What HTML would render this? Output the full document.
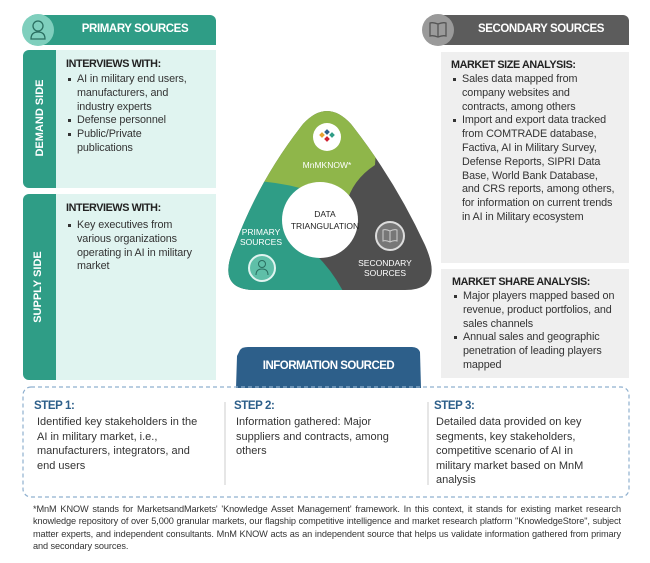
<!DOCTYPE html>
<html><head><meta charset="utf-8"><style>
*{margin:0;padding:0;box-sizing:border-box}
body{width:650px;height:563px;background:#fff;font-family:"Liberation Sans",sans-serif;position:relative;overflow:hidden;color:#333}
.a{position:absolute}
.h{font-weight:bold;font-size:10.8px;color:#222;letter-spacing:-0.4px}
ul{list-style:none}
li{position:relative;padding-left:11px;font-size:10.8px;line-height:13.8px;color:#333;white-space:nowrap;letter-spacing:-0.1px}
li:before{content:"";position:absolute;left:2px;top:5px;width:3px;height:3px;background:#333}
.st{font-weight:bold;font-size:11.5px;color:#2d5f8a;letter-spacing:-0.4px}
.sp{font-size:11px;line-height:14.6px;color:#333;white-space:nowrap}
.side{color:#fff;font-weight:bold;font-size:11px;transform:rotate(-90deg);white-space:nowrap;position:absolute}
</style></head><body>
<div class="a" style="left:32px;top:15px;width:184px;height:30px;background:#2f9d86;border-radius:0 6px 0 0"></div>
<div class="a" style="left:22px;top:14px;width:32px;height:32px;border-radius:50%;background:#7fcfbd"></div>
<svg class="a" style="left:28px;top:19px" width="20" height="22" viewBox="0 0 20 22"><circle cx="10" cy="7" r="5" fill="none" stroke="#2a6e60" stroke-width="1.3"/><path d="M3 20 Q3 13 10 13 Q17 13 17 20 Z" fill="none" stroke="#2a6e60" stroke-width="1.3"/></svg>
<div class="a" style="left:60px;top:23px;width:150px;text-align:center;color:#fff;font-weight:bold;font-size:11.5px;letter-spacing:-0.4px">PRIMARY SOURCES</div>
<div class="a" style="left:23px;top:50px;width:193px;height:138px;background:#e0f4f0;border-radius:6px 0 0 6px"></div>
<div class="a" style="left:23px;top:50px;width:33px;height:138px;background:#2f9d86;border-radius:6px 0 0 6px"></div>
<div class="side" style="left:-3px;top:112px;width:86px;text-align:center">DEMAND SIDE</div>
<div class="a h" style="left:66px;top:58px">INTERVIEWS WITH:</div>
<ul class="a" style="left:66px;top:73px"><li>AI in military end users,<br>manufacturers, and<br>industry experts</li><li>Defense personnel</li><li>Public/Private<br>publications</li></ul>
<div class="a" style="left:23px;top:194px;width:193px;height:186px;background:#e0f4f0;border-radius:6px 0 0 6px"></div>
<div class="a" style="left:23px;top:194px;width:33px;height:186px;background:#2f9d86;border-radius:6px 0 0 6px"></div>
<div class="side" style="left:-5px;top:281px;width:86px;text-align:center">SUPPLY SIDE</div>
<div class="a h" style="left:66px;top:202px">INTERVIEWS WITH:</div>
<ul class="a" style="left:66px;top:219px"><li>Key executives from<br>various organizations<br>operating in AI in military<br>market</li></ul>
<div class="a" style="left:432px;top:15px;width:197px;height:30px;background:#5c5c5c;border-radius:0 6px 0 0"></div>
<div class="a" style="left:422px;top:14px;width:32px;height:32px;border-radius:50%;background:#9a9a9a"></div>
<svg class="a" style="left:428px;top:21px" width="20" height="18" viewBox="0 0 20 18"><path d="M10 3 Q5 1 2 2 V15 Q5 14 10 16 Q15 14 18 15 V2 Q15 1 10 3 V16" fill="none" stroke="#555" stroke-width="1.3"/></svg>
<div class="a" style="left:458px;top:23px;width:166px;text-align:center;color:#fff;font-weight:bold;font-size:11.5px;letter-spacing:-0.4px">SECONDARY SOURCES</div>
<div class="a" style="left:441px;top:52px;width:188px;height:211px;background:#efefef"></div>
<div class="a h" style="left:451px;top:59px">MARKET SIZE ANALYSIS:</div>
<ul class="a" style="left:451px;top:73px"><li>Sales data mapped from<br>company websites and<br>contracts, among others</li><li>Import and export data tracked<br>from COMTRADE database,<br>Factiva, AI in Military Survey,<br>Defense Reports, SIPRI Data<br>Base, World Bank Database,<br>and CRS reports, among others,<br>for information on current trends<br>in AI in Military ecosystem</li></ul>
<div class="a" style="left:441px;top:269px;width:188px;height:109px;background:#efefef"></div>
<div class="a h" style="left:452px;top:276px">MARKET SHARE ANALYSIS:</div>
<ul class="a" style="left:452px;top:290px"><li>Major players mapped based on<br>revenue, product portfolios, and<br>sales channels</li><li>Annual sales and geographic<br>penetration of leading players<br>mapped</li></ul>
<svg class="a" style="left:0;top:0" width="650" height="563">
<defs><clipPath id="t"><path d="M303 124 Q327 98 351 124 Q395 180 425 245 Q445 290 405 290 L255 290 Q215 290 235 245 Q259 180 303 124 Z"/></clipPath></defs>
<g clip-path="url(#t)">
<rect x="200" y="90" width="250" height="210" fill="#4f4f4f"/>
<path d="M200 90 L380 90 L375 165 Q352 180 346 205 Q330 190 305 196 Q270 200 225 185 Z" fill="#8fb64a"/>
<path d="M200 185 Q250 175 300 188 Q285 215 305 245 Q330 265 345 295 L200 300 Z" fill="#2f9d86"/>
</g>
<circle cx="320" cy="220" r="38" fill="#fff"/>
<circle cx="327" cy="137" r="14" fill="#fff"/>
<rect x="320" y="133" width="4" height="4" fill="#e8a030" transform="rotate(45 322 135)"/>
<rect x="325" y="130" width="4" height="4" fill="#2d5f8a" transform="rotate(45 327 132)"/>
<rect x="325" y="137" width="4" height="4" fill="#d02030" transform="rotate(45 327 139)"/>
<rect x="330" y="133" width="4" height="4" fill="#2f9d86" transform="rotate(45 332 135)"/>
<circle cx="390" cy="236" r="14" fill="#777" stroke="#ddd" stroke-width="2"/>
<path d="M390 231 Q386 229 383 230 V241 Q386 240 390 242 Q394 240 397 241 V230 Q394 229 390 231 V242" fill="none" stroke="#ccc" stroke-width="1"/>
<circle cx="262" cy="268" r="13" fill="#5fbfa8" stroke="#e0f4f0" stroke-width="2"/>
<circle cx="262" cy="264" r="3.5" fill="none" stroke="#2a6e60" stroke-width="1"/>
<path d="M256 275 Q256 269 262 269 Q268 269 268 275" fill="none" stroke="#2a6e60" stroke-width="1"/>
<g font-family="Liberation Sans" font-size="8.5" fill="#fff" text-anchor="middle">
<text x="327" y="168">MnMKNOW*</text>
<text x="261" y="235">PRIMARY</text><text x="261" y="245">SOURCES</text>
<text x="385" y="266">SECONDARY</text><text x="385" y="276">SOURCES</text>
</g>
<g font-family="Liberation Sans" font-size="8.5" fill="#222" text-anchor="middle">
<text x="325" y="217">DATA</text><text x="325" y="229">TRIANGULATION</text>
</g>
<path d="M240 350 Q242 347 248 347 L412 347 Q418 347 420 352 L421 388 L236 388 L237 356 Z" fill="#2d5f8a"/>
<rect x="23" y="387" width="606" height="110" rx="8" fill="none" stroke="#8fb0cf" stroke-width="1.2" stroke-dasharray="4 3"/>
<line x1="225" y1="402" x2="225" y2="485" stroke="#ddd" stroke-width="1.5"/>
<line x1="428" y1="402" x2="428" y2="485" stroke="#ddd" stroke-width="1.5"/>
</svg>
<div class="a" style="left:236px;top:360px;width:185px;text-align:center;color:#fff;font-weight:bold;font-size:11.5px;letter-spacing:-0.5px">INFORMATION SOURCED</div>
<div class="a st" style="left:34px;top:400px">STEP 1:</div>
<div class="a sp" style="left:37px;top:415px">Identified key stakeholders in the<br>AI in military market, i.e.,<br>manufacturers, integrators, and<br>end users</div>
<div class="a st" style="left:234px;top:400px">STEP 2:</div>
<div class="a sp" style="left:236px;top:415px">Information gathered: Major<br>suppliers and contracts, among<br>others</div>
<div class="a st" style="left:434px;top:400px">STEP 3:</div>
<div class="a sp" style="left:436px;top:415px">Detailed data provided on key<br>segments, key stakeholders,<br>competitive scenario of AI in<br>military market based on MnM<br>analysis</div>
<div class="a" style="left:33px;top:503px;width:588px;font-size:9.2px;line-height:12.3px;text-align:justify;color:#333;letter-spacing:-0.1px">*MnM KNOW stands for MarketsandMarkets' 'Knowledge Asset Management' framework. In this context, it stands for existing market research knowledge repository of over 5,000 granular markets, our flagship competitive intelligence and market research platform "KnowledgeStore", subject matter experts, and independent consultants. MnM KNOW acts as an independent source that helps us validate information gathered from primary and secondary sources.</div>
</body></html>
